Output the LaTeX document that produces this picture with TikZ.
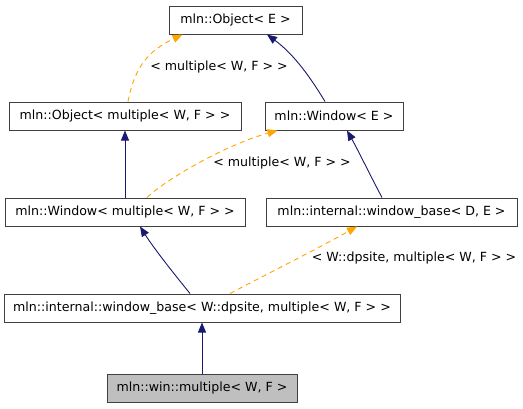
\documentclass[tikz,border=0pt]{standalone}
\usepackage{fontspec}
\setmainfont{DejaVu Sans}
\usetikzlibrary{arrows.meta}
\definecolor{edgeblue}{HTML}{191970}
\definecolor{edgeorange}{HTML}{FFA500}
\begin{document}
\begin{tikzpicture}[x=1pt,y=-1pt,
    cls/.style={draw=black!75,line width=1pt,minimum height=28pt,inner sep=0pt,font=\fontsize{12.6}{14}\selectfont},
    inh/.style={edgeblue,line width=0.9pt,-{Triangle[length=10pt,width=8pt]}},
    tmpl/.style={edgeorange,line width=0.9pt,dash pattern=on 5pt off 4pt,-{Triangle[length=10pt,width=8pt]}},
    lbl/.style={font=\fontsize{12.6}{14}\selectfont,inner sep=0pt}]
    \useasboundingbox (0,0) rectangle (523,408);
    \node[cls,minimum width=133pt] (obj) at (235.5,20) {mln::Object< E >};
    \node[cls,minimum width=232pt] (objm) at (125,116) {mln::Object< multiple< W, F > >};
    \node[cls,minimum width=138pt] (win) at (334,116) {mln::Window< E >};
    \node[cls,minimum width=240pt] (winm) at (125,212) {mln::Window< multiple< W, F > >};
    \node[cls,minimum width=251pt] (wbde) at (391.5,212) {mln::internal::window\_base< D, E >};
    \node[cls,minimum width=396pt] (wbm) at (202,308) {mln::internal::window\_base< W::dpsite, multiple< W, F > >};
    \node[cls,minimum width=190pt,fill=black!25] (mult) at (202,388) {mln::win::multiple< W, F >};
    % template instances
    \draw[tmpl] ([xshift=3]objm.north) .. controls (135,65) and (150,50) .. ([xshift=14]obj.south west);
    \node[lbl] (l1) at (219,67) {< multiple< W, F > >};
    \draw[tmpl] ([xshift=22]winm.north) .. controls (165,180) and (225,145) .. ([xshift=13]win.south west);
    \node[lbl] (l2) at (282,163) {< multiple< W, F > >};
    \draw[tmpl] ([xshift=28]wbm.north) .. controls (265,275) and (315,250) .. ([xshift=-34.5]wbde.south);
    \node[lbl] (l3) at (414,258) {< W::dpsite, multiple< W, F > >};
    % inheritance
    \draw[inh] ([xshift=-9]win.north) .. controls (312,80) and (295,55) .. ([xshift=31.5]obj.south);
    \draw[inh] (winm.north) -- (objm.south);
    \draw[inh] ([xshift=-9.5]wbde.north) .. controls (370,175) and (358,150) .. ([xshift=13]win.south);
    \draw[inh] ([xshift=-12]wbm.north) .. controls (175,275) and (155,250) .. ([xshift=15]winm.south);
    \draw[inh] (mult.north) -- (wbm.south);
\end{tikzpicture}
\end{document}
